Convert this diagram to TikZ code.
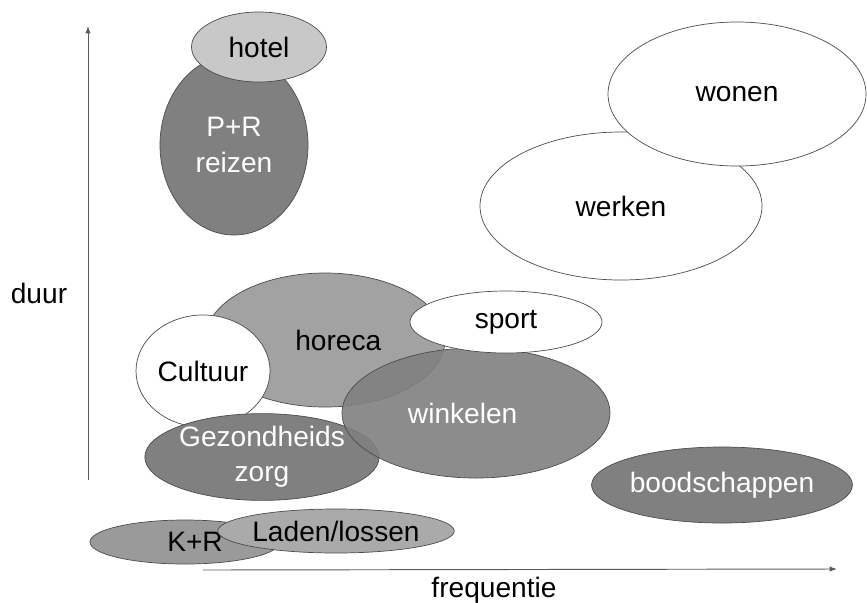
\documentclass[tikz,border=0pt]{standalone}
\usepackage{fontspec}
\setmainfont{Liberation Sans}
\usepackage{xcolor}
\usetikzlibrary{positioning,arrows.meta,shapes.geometric}
\definecolor{darkblob}{HTML}{808080}
\definecolor{midblob}{HTML}{A2A2A2}
\definecolor{lightblob}{HTML}{C8C8C8}
\definecolor{axisgray}{HTML}{5A5A5A}

\begin{document}
\begin{tikzpicture}[x=0.03cm,y=-0.03cm,blob/.style={ellipse,draw=black!70,line width=0.6pt,inner sep=0pt,
  align=center,fill=white},dark/.style={blob,fill=darkblob,text=white},
  font=\fontsize{24}{30}\selectfont]
\useasboundingbox (0,0) rectangle (867,602);
\node[dark,minimum width=4.44cm,minimum height=5.4cm] (pr) at (234,145) {P+R\\reizen};
\node[blob,fill=lightblob,minimum width=4.05cm,minimum height=2.1cm] (hotel) at (259,47) {hotel};
\node[blob,minimum width=8.46cm,minimum height=4.44cm] (werken) at (621,206) {werken};
\node[blob,minimum width=7.74cm,minimum height=4.32cm] (wonen) at (737,94) {wonen};
\node[blob,fill=midblob,minimum width=7.2cm,minimum height=4.02cm] (horeca) at (325,340) {\hspace*{0.8cm}horeca};
\node[blob,minimum width=4.02cm,minimum height=3.36cm] (cultuur) at (203,371) {Cultuur};
\node[dark,minimum width=6.9cm,minimum height=2.4cm] (zorg) at (262,457) {Gezondheids\\zorg};
\node[dark,fill opacity=0.9,text opacity=1,minimum width=8.04cm,minimum height=3.9cm] (winkelen) at (476,413) {winkelen\hspace*{0.8cm}};
\node[blob,minimum width=5.76cm,minimum height=1.86cm] (sport) at (506,322) {sport};
\node[dark,minimum width=7.26cm,minimum height=2.28cm] (boodsch) at (722,485) {boodschappen};
\node[blob,fill=midblob!95!black,minimum width=5.7cm,minimum height=1.32cm] (kr) at (185,542) {\hspace*{0.6cm}K+R};
\node[blob,fill=lightblob!85!black,minimum width=6.36cm,minimum height=1.32cm] (laden) at (336,531) {Laden/lossen};
% assen
\coordinate (ybot) at (88,480);
\coordinate (ytop) at (88,26);
\coordinate (xleft) at (203,570);
\coordinate (xright) at (837,569);
\draw[axisgray,line width=0.8pt,-{Latex[length=2.2mm,width=1.6mm]}] (ybot) -- (ytop);
\draw[axisgray,line width=0.8pt,-{Latex[length=2.2mm,width=1.6mm]}] (xleft) -- (xright);
\node (duur) at (39,293) {duur};
\node (freq) at (494,590) {frequentie};
\end{tikzpicture}
\end{document}
